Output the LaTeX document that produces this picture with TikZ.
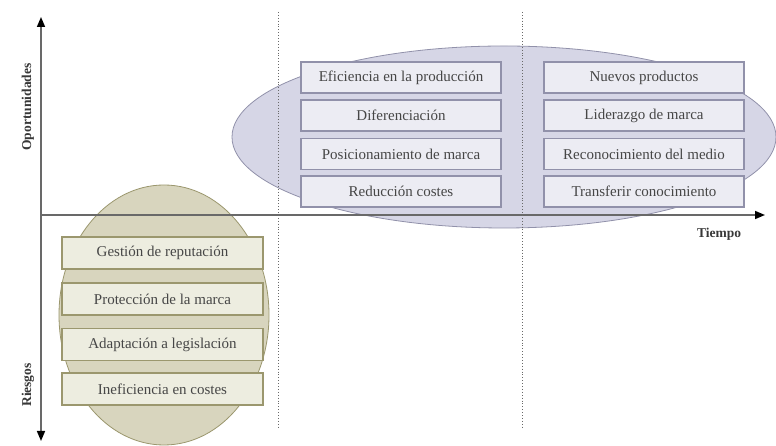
\documentclass[tikz,border=0pt]{standalone}
\usepackage{fontspec}
\setmainfont{Liberation Serif}
\usetikzlibrary{shapes.geometric,arrows.meta}
\definecolor{txt}{RGB}{70,70,70}
\definecolor{axisc}{RGB}{105,105,105}
\definecolor{oppfill}{RGB}{214,214,230}
\definecolor{oppdraw}{RGB}{145,145,170}
\definecolor{oppbox}{RGB}{236,236,243}
\definecolor{riskfill}{RGB}{216,213,190}
\definecolor{riskdraw}{RGB}{155,151,110}
\definecolor{riskbox}{RGB}{237,237,224}
\tikzset{
  oppell/.style={ellipse, draw=oppdraw, fill=oppfill, line width=0.8pt, inner sep=0pt},
  riskell/.style={ellipse, draw=riskdraw, fill=riskfill, line width=0.8pt, inner sep=0pt},
  oppitem/.style={rectangle, draw=oppdraw, fill=oppbox, line width=1.1pt, minimum width=200pt, minimum height=31pt, inner sep=0pt, text=txt, font=\fontsize{15}{17}\selectfont},
  riskitem/.style={rectangle, draw=riskdraw, fill=riskbox, line width=1.1pt, minimum width=201pt, minimum height=32pt, inner sep=0pt, text=txt, font=\fontsize{15}{17}\selectfont},
  axisline/.style={draw=axisc, line width=1.6pt, -{Triangle[length=10pt,width=8pt,color=black,fill=black]}},
  divider/.style={draw=axisc, dotted, line width=0.9pt},
  axislabel/.style={text=txt!80!black, font=\bfseries\fontsize{13.5}{15}\selectfont, inner sep=0pt}
}
\begin{document}
\begin{tikzpicture}[x=1pt,y=1pt]
\useasboundingbox[fill=white] (0,0) rectangle (776,446);
% background ellipses
\node[oppell, minimum width=544pt, minimum height=182pt] (opp) at (504,309) {};
\node[riskell, minimum width=210pt, minimum height=260pt] (risk) at (164,131) {};
% opportunity items
\node[oppitem] (o1) at (401,368.5) {Eficiencia en la producción};
\node[oppitem] (o2) at (401,330.5) {Diferenciación};
\node[oppitem] (o3) at (401,292) {Posicionamiento de marca};
\node[oppitem] (o4) at (401,254.5) {Reducción costes};
\node[oppitem] (n1) at (644,368.5) {Nuevos productos};
\node[oppitem] (n2) at (644,330.5) {Liderazgo de marca};
\node[oppitem] (n3) at (644,292) {Reconocimiento del medio};
\node[oppitem] (n4) at (644,254.5) {Transferir conocimiento};
% risk items
\node[riskitem] (r1) at (162.5,193) {Gestión de reputación};
\node[riskitem] (r2) at (162.5,147) {Protección de la marca};
\node[riskitem] (r3) at (162.5,101.5) {Adaptación a legislación};
\node[riskitem] (r4) at (162.5,57) {Ineficiencia en costes};
% dividers
\coordinate (d1t) at (278,434); \coordinate (d1b) at (278,18);
\coordinate (d2t) at (522,434); \coordinate (d2b) at (522,18);
\draw[divider] (d1t) -- (d1b);
\draw[divider] (d2t) -- (d2b);
% axes
\coordinate (origin) at (41,231);
\coordinate (ytop) at (41,429);
\coordinate (ybot) at (41,5);
\coordinate (xend) at (765,231);
\draw[axisline] (origin) -- (ytop);
\draw[axisline] (origin) -- (ybot);
\draw[axisline] (origin) -- (xend);
% axis labels
\node[axislabel, rotate=90] (lopp) at (28,339) {Oportunidades};
\node[axislabel, rotate=90] (lrisk) at (28,61) {Riesgos};
\node[axislabel] (ltime) at (719,212) {Tiempo};
\end{tikzpicture}
\end{document}
